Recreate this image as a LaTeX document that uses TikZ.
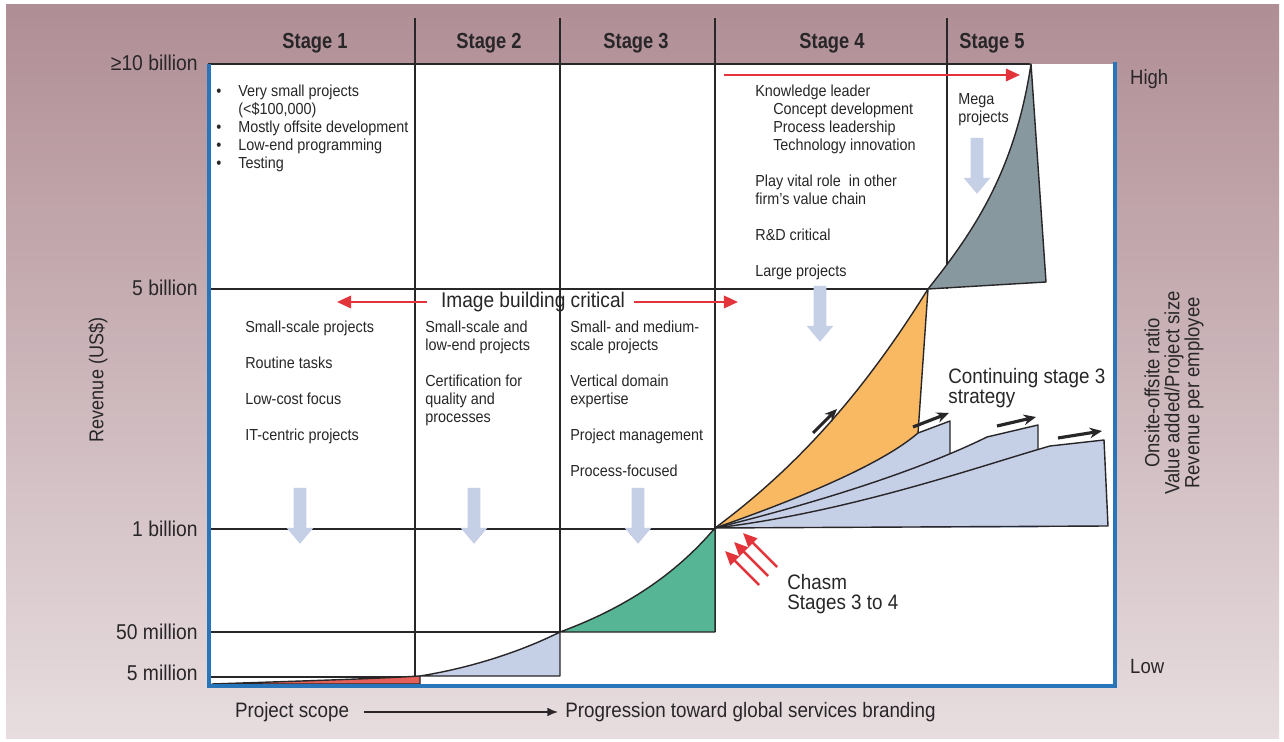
\documentclass[tikz,border=0pt]{standalone}
\usepackage{fontspec}
\setmainfont[FakeStretch=0.9]{Liberation Sans}
\newfontfamily\headfont[FakeStretch=0.84]{Liberation Sans}
\usetikzlibrary{positioning, arrows.meta, shapes.arrows}

\definecolor{bgtop}{RGB}{176,142,149}
\definecolor{bgbot}{RGB}{231,221,223}
\definecolor{frameblue}{RGB}{41,117,186}
\definecolor{paleblue}{RGB}{197,207,230}
\definecolor{stagered}{RGB}{228,96,88}
\definecolor{stagegreen}{RGB}{85,181,149}
\definecolor{stageorange}{RGB}{249,184,98}
\definecolor{stagegrey}{RGB}{135,152,158}
\definecolor{chasmred}{RGB}{226,52,58}
\definecolor{ink}{RGB}{40,38,40}

\begin{document}
\begin{tikzpicture}[x=0.02cm, y=-0.02cm,
    grid/.style={draw=ink, line width=0.8pt},
    stagelabel/.style={font=\headfont\fontsize{12.4}{13}\selectfont\bfseries, text=ink},
    ylabel/.style={anchor=east, inner sep=0pt, font=\fontsize{12.2}{13}\selectfont, text=ink},
    axistext/.style={font=\fontsize{11.9}{12}\selectfont, text=ink},
    cell/.style={anchor=north west, align=left, inner sep=0pt, font=\fontsize{9.1}{10.2}\selectfont, text=ink},
    bigtext/.style={anchor=north west, align=left, inner sep=0pt, font=\fontsize{11.9}{11.4}\selectfont, text=ink},
    downarrow/.style={single arrow, fill=paleblue, draw=none, shape border rotate=270,
        minimum height=1.12cm, inner sep=0.12cm, single arrow head extend=0.14cm,
        single arrow tip angle=80},
    redarrow/.style={draw=chasmred, line width=1.4pt, -{Triangle[length=8pt, width=7pt]}},
    trend/.style={draw=ink, line width=1.8pt, -{Stealth[length=7pt, width=6pt]}},
    band/.style={draw=ink, line width=0.8pt, line join=round}
]
\useasboundingbox (0,0) rectangle (1284,742);
% background
\fill[white] (0,0) rectangle (1284,742);
\shade[top color=bgtop, bottom color=bgbot] (6,5) rectangle (1279,738);
\fill[white] (209,64) rectangle (1115,686);

% grid
\draw[grid] (208,64) -- (1030,64);
\draw[grid] (208,289) -- (928,289);
\draw[grid] (208,529) -- (715,529);
\draw[grid] (208,632) -- (560,632);
\draw[grid] (208,677) -- (420,677);
\draw[grid] (415,18) -- (415,677);
\draw[grid] (560,18) -- (560,632);
\draw[grid] (715,18) -- (715,632);
\draw[grid] (947,18) -- (947,289);

% stage shapes
\coordinate (O) at (715,528);
\fill[stagered, band] (212,684) .. controls (300,681) and (370,679) .. (420,676) -- (420,684) -- cycle;
\fill[paleblue, band] (420,676) .. controls (470,668) and (520,652) .. (560,632) -- (560,676) -- cycle;
\fill[stagegreen, band] (560,632) .. controls (625,608) and (675,575) .. (715,528) -- (715,632) -- cycle;
\fill[stagegrey, band] (928,289) .. controls (975,230) and (1015,170) .. (1031,64) -- (1046,282) -- cycle;

% continuing stage 3 fans, filled first, outlined after
\fill[paleblue] (O) .. controls (850,512) and (980,466) .. (1050,446) -- (1104,440) -- (1108,526) -- (715,528) -- cycle;
\fill[paleblue] (O) .. controls (820,502) and (920,470) .. (987,437) -- (1038,425) -- (1038,528) -- cycle;
\fill[paleblue] (O) .. controls (790,502) and (880,466) .. (918,433) -- (950,421) -- (950,528) -- cycle;
\fill[stageorange] (O) .. controls (800,465) and (865,390) .. (928,289) -- (918,433)
    .. controls (880,466) and (790,502) .. (O);
\draw[band] (O) .. controls (850,512) and (980,466) .. (1050,446) -- (1104,440) -- (1108,526) -- (715,528);
\draw[band] (O) .. controls (820,502) and (920,470) .. (987,437) -- (1038,425) -- (1038,450);
\draw[band] (O) .. controls (790,502) and (880,466) .. (918,433) -- (950,421) -- (950,454);
\draw[band] (O) .. controls (800,465) and (865,390) .. (928,289) -- (918,433);

% frame
\draw[frameblue, line width=2.5pt] (209,64) -- (209,686) -- (1115,686) -- (1115,62);

% stage headers
\node[stagelabel] (s1) at (315,43) {Stage 1};
\node[stagelabel] (s2) at (489,43) {Stage 2};
\node[stagelabel] (s3) at (636,43) {Stage 3};
\node[stagelabel] (s4) at (832,43) {Stage 4};
\node[stagelabel] (s5) at (992,43) {Stage 5};

% revenue axis
\node[ylabel] (r10) at (198,63) {≥10 billion};
\node[ylabel] (r5) at (198,288) {5 billion};
\node[ylabel] (r1) at (198,529) {1 billion};
\node[ylabel] (r50m) at (198,632) {50 million};
\node[ylabel] (r5m) at (198,673) {5 million};
\node[rotate=90, axistext, font=\fontsize{11.4}{12}\selectfont] (rev) at (98,380) {Revenue (US\$)};

% right axis
\node[anchor=west, axistext, font=\fontsize{11.7}{12}\selectfont] (high) at (1124,79) {High};
\node[anchor=west, axistext, font=\fontsize{11.7}{12}\selectfont] (low) at (1124,667) {Low};
\node[rotate=90, align=center, axistext, font=\fontsize{11.7}{11.4}\selectfont] (ratio) at (1174,393)
    {Onsite-offsite ratio\\Value added/Project size\\Revenue per employee};

% stage 1 text
\node[cell] (st1) at (216,84) {\begin{tabular}[t]{@{}l@{}l@{}}
    \makebox[12.5pt][l]{\textbullet} & Very small projects\\
     & (<\$100,000)\\
    \makebox[12.5pt][l]{\textbullet} & Mostly offsite development\\
    \makebox[12.5pt][l]{\textbullet} & Low-end programming\\
    \makebox[12.5pt][l]{\textbullet} & Testing
  \end{tabular}};

% stage 4 and 5 text
\node[cell] (st4) at (755,85) {Knowledge leader\\
    \hspace*{10.2pt}Concept development\\
    \hspace*{10.2pt}Process leadership\\
    \hspace*{10.2pt}Technology innovation\\[10.2pt]
    Play vital role\ \ in other\\
    firm’s value chain\\[10.2pt]
    R\&D critical\\[10.2pt]
    Large projects};
\node[cell] (st5) at (958,93) {Mega\\projects};

% lower cells
\node[cell] (c1) at (245,321) {Small-scale projects\\[10.2pt]
    Routine tasks\\[10.2pt]
    Low-cost focus\\[10.2pt]
    IT-centric projects};
\node[cell] (c2) at (425,321) {Small-scale and\\
    low-end projects\\[10.2pt]
    Certification for\\
    quality and\\
    processes};
\node[cell] (c3) at (570,321) {Small- and medium-\\
    scale projects\\[10.2pt]
    Vertical domain\\
    expertise\\[10.2pt]
    Project management\\[10.2pt]
    Process-focused};

% downward block arrows
\foreach \x/\y [count=\i] in {300/512, 474/512, 638/512, 820/310, 977/162}
    \node[downarrow] (dn\i) at (\x,\y) {};

% image building
\node[font=\fontsize{12.1}{14}\selectfont, text=ink, inner sep=2pt] (img) at (533,302) {Image building critical};
\coordinate (imgL) at (337,302);
\coordinate (imgR) at (738,302);
\draw[redarrow] ([xshift=-0.2cm]img.west) -- (imgL);
\draw[redarrow] ([xshift=0.1cm]img.east) -- (imgR);

% knowledge leader arrow
\coordinate (klL) at (724,75);
\coordinate (klR) at (1020,75);
\draw[redarrow] (klL) -- (klR);

% chasm
\node[bigtext] (chasm) at (787,574) {Chasm\\Stages 3 to 4};
\foreach \dx/\dy [count=\i] in {0/0, -9/9, -18/18} {
    \coordinate (ct\i) at (777+\dx,567+\dy);
    \coordinate (ch\i) at (743+\dx,533+\dy);
    \draw[redarrow] (ct\i) -- (ch\i);
}

% continuing stage 3
\node[bigtext] (cont) at (948,368) {Continuing stage 3\\strategy};
\foreach \ax/\ay/\bx/\by [count=\i] in {813/433/837/409, 913/427/949/413, 997/426/1036/417, 1058/438/1102/431} {
    \coordinate (ta\i) at (\ax,\ay);
    \coordinate (tb\i) at (\bx,\by);
    \draw[trend] (ta\i) -- (tb\i);
}

% bottom axis
\node[axistext] (scope) at (292,712) {Project scope};
\node[anchor=west, axistext, inner sep=0pt] (prog) at (565,712) {Progression toward global services branding};
\draw[ink, line width=0.9pt, -{Latex[length=6pt, width=5pt]}, shorten <=5pt, shorten >=4pt] (scope.east) -- (prog.west);
\end{tikzpicture}
\end{document}
